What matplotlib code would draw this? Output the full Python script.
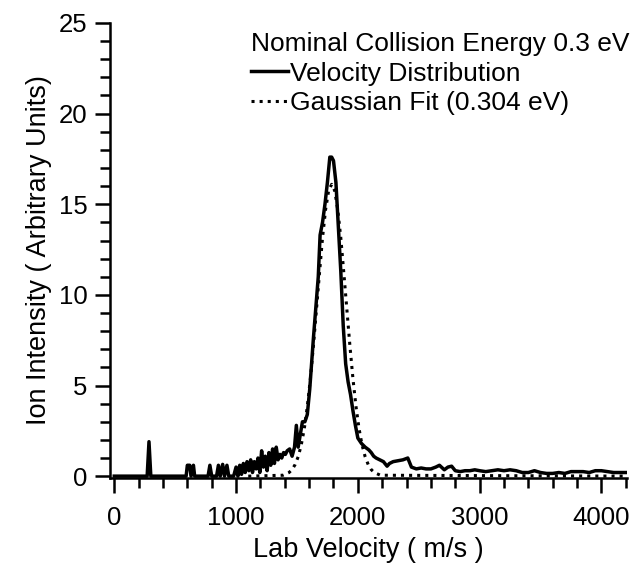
import matplotlib.pyplot as plt
from matplotlib.ticker import MultipleLocator

plt.rcParams['font.family'] = ['Liberation Sans', 'DejaVu Sans']

# measured velocity distribution (m/s, arbitrary units)
vel = [0, 270, 285, 300, 590, 600, 620, 630, 650, 660, 770, 785, 800, 840, 855, 870,
       890, 905, 925, 940, 980, 1000, 1015, 1030, 1045, 1060, 1075, 1090, 1105, 1120,
       1135, 1150, 1165, 1180, 1195, 1210, 1225, 1240, 1255, 1270, 1285, 1300, 1315,
       1330, 1345, 1360, 1375, 1390, 1405, 1420, 1440, 1460, 1480, 1495, 1510, 1525,
       1545, 1565, 1585, 1605, 1620, 1635, 1655, 1675, 1690, 1710, 1730, 1750, 1770,
       1785, 1800, 1820, 1840, 1860, 1880, 1900, 1920, 1940, 1960, 1980, 2000, 2030,
       2060, 2090, 2110, 2130, 2150, 2180, 2210, 2240, 2260, 2290, 2330, 2370, 2410,
       2440, 2480, 2520, 2560, 2600, 2640, 2670, 2710, 2740, 2770, 2800, 2840, 2880,
       2920, 2960, 3000, 3050, 3100, 3150, 3200, 3250, 3300, 3350, 3400, 3450, 3500,
       3550, 3600, 3650, 3700, 3750, 3800, 3850, 3900, 3950, 4000, 4050, 4100, 4150,
       4200]
intensity = [0, 0, 1.9, 0, 0, 0.6, 0.6, 0, 0.6, 0, 0, 0.6, 0, 0, 0.6, 0,
             0.65, 0, 0.6, 0, 0, 0.5, 0, 0.6, 0.1, 0.7, 0.2, 0.8, 0.3, 0.9,
             0.2, 0.8, 0.4, 1.0, 0.2, 1.4, 0.5, 1.1, 0.3, 1.3, 0.6, 1.5, 0.7,
             1.6, 0.9, 1.2, 1.0, 1.3, 1.2, 1.4, 1.5, 1.1, 1.6, 2.8, 1.6, 2.2,
             3.0, 3.0, 3.4, 4.8, 6.2, 7.6, 9.3, 11.0, 13.3, 14.0, 15.0, 16.2, 17.6,
             17.6, 17.4, 16.2, 13.8, 11.3, 8.3, 6.2, 5.2, 4.5, 3.6, 2.8, 2.1, 1.8,
             1.6, 1.45, 1.3, 1.1, 1.0, 0.9, 0.8, 0.55, 0.7, 0.8, 0.85, 0.9, 1.0,
             0.5, 0.4, 0.45, 0.4, 0.4, 0.5, 0.6, 0.35, 0.5, 0.55, 0.3, 0.25, 0.3,
             0.3, 0.35, 0.3, 0.25, 0.3, 0.35, 0.3, 0.35, 0.3, 0.2, 0.2, 0.3, 0.2,
             0.15, 0.15, 0.2, 0.15, 0.25, 0.25, 0.25, 0.2, 0.3, 0.3, 0.25, 0.2, 0.2,
             0.2]

# gaussian fit
fit_vel = [1100, 1385, 1435, 1460, 1485, 1510, 1535, 1560, 1585, 1610, 1635, 1660,
           1685, 1710, 1735, 1760, 1785, 1810, 1835, 1860, 1885, 1910, 1935, 1960,
           1985, 2010, 2035, 2060, 2085, 2110, 2135, 2185, 4200]
fit_int = [0.0, 0.05, 0.2, 0.36, 0.64, 1.07, 1.71, 2.61, 3.83, 5.36, 7.18, 9.19,
           11.2, 13.15, 14.7, 15.75, 16.1, 15.75, 14.7, 13.15, 11.2, 9.19, 7.18, 5.36,
           3.83, 2.61, 1.71, 1.07, 0.64, 0.36, 0.2, 0.05, 0.0]

fig = plt.figure(figsize=(6.33, 5.69), dpi=100)
ax = fig.add_axes([0.1738, 0.16, 0.8167, 0.7996])

ax.plot(vel, intensity, color='black', lw=2.5, label='Velocity Distribution')
ax.plot(fit_vel, fit_int, color='black', lw=2.2, linestyle=':', label='Gaussian Fit (0.304 eV)')

ax.set_xlim(-35, 4210)
ax.set_ylim(-0.1, 25)
ax.spines['top'].set_visible(False)
ax.spines['right'].set_visible(False)
ax.spines['left'].set_linewidth(1.8)
ax.spines['bottom'].set_linewidth(1.8)

ax.xaxis.set_major_locator(MultipleLocator(1000))
ax.xaxis.set_minor_locator(MultipleLocator(200))
ax.yaxis.set_major_locator(MultipleLocator(5))
ax.yaxis.set_minor_locator(MultipleLocator(1))
ax.tick_params(which='major', length=11, width=1.8, labelsize=18.5, direction='out')
ax.tick_params(which='minor', length=7, width=1.8, direction='out')
ax.tick_params(axis='x', which='major', pad=9)
ax.tick_params(axis='y', which='major', pad=5)

ax.set_xlabel('Lab Velocity ( m/s )', fontsize=19.5, labelpad=5)
ax.set_ylabel('Ion Intensity ( Arbitrary Units)', fontsize=19.5, labelpad=5)

leg = ax.legend(title='Nominal Collision Energy 0.3 eV', loc='upper right',
                bbox_to_anchor=(1.04, 1.02), frameon=False, fontsize=19,
                title_fontsize=19, alignment='left', handlelength=1.4,
                handletextpad=0.1, labelspacing=0.2, borderpad=0.2)

fig.savefig('out.png', dpi=100)
